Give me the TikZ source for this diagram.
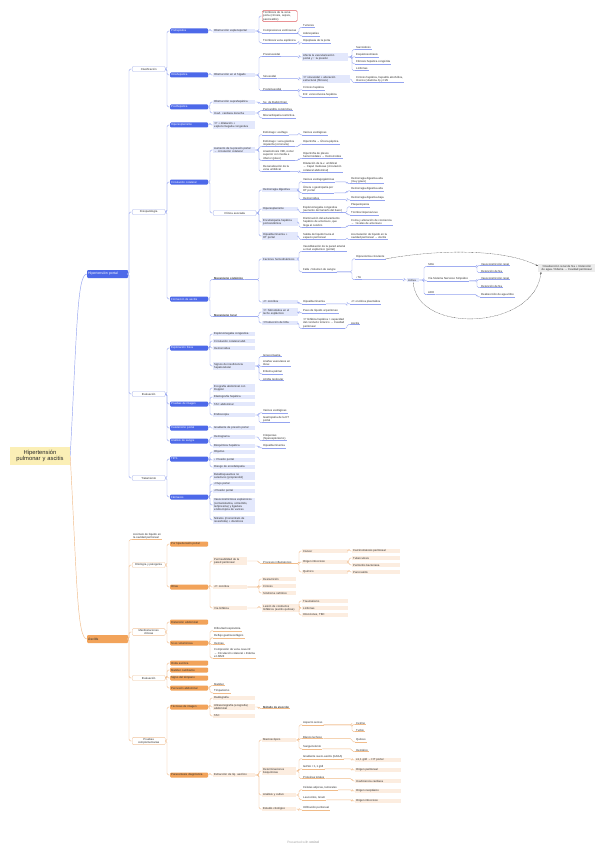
\documentclass[tikz,border=0pt]{standalone}
\usepackage{fontspec}
\setmainfont{Liberation Sans}
\usetikzlibrary{arrows.meta}
\definecolor{bl}{HTML}{4D69E9}
\definecolor{lbl}{HTML}{E3E8FC}
\definecolor{cbl}{HTML}{95A4F0}
\definecolor{wbd}{HTML}{A7B2EA}
\definecolor{orn}{HTML}{F2A35A}
\definecolor{lor}{HTML}{FCEDE0}
\definecolor{col}{HTML}{F1BC8A}
\definecolor{wod}{HTML}{F0C49E}
\definecolor{yel}{HTML}{FBEFB6}
\definecolor{txt}{HTML}{2E2E2E}
\definecolor{redb}{HTML}{E05A5E}
\definecolor{gry}{HTML}{ECECEC}
\newcommand\fs{\fontsize{2.8}{3.4}\selectfont}
\tikzset{
 base/.style={anchor=west, inner xsep=1pt, inner ysep=0.6pt, font=\fs, text=txt, align=left},
 hb/.style={base, fill=bl, text=white, rounded corners=1pt, text width=36pt, minimum height=5pt},
 ob/.style={base, fill=orn, rounded corners=1pt, text width=36pt, minimum height=5pt},
 lb/.style={base, fill=lbl, text width=#1},
 lb/.default=40pt,
 lo/.style={base, fill=lor, text width=#1},
 lo/.default=40pt,
 wbb/.style={base, draw=wbd, line width=0.4pt, fill=white, rounded corners=1pt, text width=31pt, align=center, minimum height=5pt},
 wbo/.style={wbb, draw=wod},
 lnb/.style={draw=cbl, line width=0.45pt, rounded corners=1.5pt},
 lno/.style={draw=col, line width=0.45pt, rounded corners=1.5pt},
 ub/.style={base, inner ysep=0.4pt, append after command={(\tikzlastnode.south west) edge[lnb] (\tikzlastnode.south east)}},
 uo/.style={base, inner ysep=0.4pt, append after command={(\tikzlastnode.south west) edge[lno] (\tikzlastnode.south east)}},
 dsh/.style={draw=black!65, line width=0.35pt, dash pattern=on 0.8pt off 0.6pt, -{Stealth[length=2.2pt,width=1.8pt]}},
}
\newcommand\lks[3][lnb]{\foreach \kid in {#3}{\path (\kid) ++(-3pt,0) coordinate (tmpS); \draw[#1] (#2) -- (tmpS |- #2) |- (\kid);}}
\begin{document}
\begin{tikzpicture}[x=1pt,y=-1pt]
\fill[white] (0,0) rectangle (606,848);
\useasboundingbox (0,0) rectangle (606,848);

% root
\node[base, anchor=center, fill=yel, text width=58pt, align=center, minimum height=18pt, font=\fontsize{5.8}{6.8}\selectfont, text=black!85] (root) at (40,456) {Hipertensión\\pulmonar y ascitis};
\node[hb, minimum height=8pt, text width=39pt, font=\fontsize{3.5}{4.2}\selectfont] (hp) at (87,274) {Hipertensión portal};
\node[ob, minimum height=8pt, text width=39pt, font=\fontsize{3.5}{4.2}\selectfont] (asn) at (87,639) {Ascitis};
\draw[lnb] (root.east) .. controls (77,330) and (77,274) .. (hp.west);
\draw[lno] (root.east) .. controls (77,580) and (77,639) .. (asn.west);

% ===== upper level 2
\node[wbb] (cla) at (132,69) {Clasificación};
\node[wbb] (fis) at (132,212) {Fisiopatología};
\node[wbb] (eva) at (132,394) {Evaluación};
\node[wbb] (tra) at (132,478) {Tratamiento};
% level 3
\node[hb] (pre) at (170,31) {Prehepática};
\node[hb] (intra) at (170,75) {Intrahepática};
\node[hb] (post) at (170,107) {Posthepática};
\node[hb] (hesp) at (170,125) {Hiperesplenismo};
\node[hb] (circ) at (170,182) {Circulación colateral};
\node[hb] (fasc) at (170,299) {Formación de ascitis};
\node[hb] (expl) at (170,348) {Exploración física};
\node[hb] (img) at (170,404) {Pruebas de imagen};
\node[hb] (cat) at (170,428) {Cateterismo portal};
\node[hb] (ana) at (170,441) {Análisis de sangre};
\node[hb] (tips) at (170,459) {TIPS};
\node[hb] (farm) at (170,497) {Fármacos};
% level 4
\node[lb] (obs) at (213,31) {Obstrucción esplenoportal};
\node[lb] (obh) at (213,75) {Obstrucción en el hígado};
\node[lb] (sup) at (213,102) {Obstrucción suprahepática};
\node[lb] (icc) at (213,113) {Insuf. cardiaca derecha};
\node[lb] (h1) at (213,125) {↑P + dilatación +\\esplenomegalia congestiva};
\node[lb] (aum) at (213,150) {Aumento de la presión portal\\→ circulación colateral};
\node[wbb, text width=41pt] (clin) at (213,213) {Clínica asociada};
\node[ub] (msis) at (213,278) {\textbf{Mecanismo sistémico}};
\node[ub] (mloc) at (213,315) {\textbf{Mecanismo local}};
\node[lb] (e1) at (213,334) {Esplenomegalia congestiva};
\node[lb] (e2) at (213,341) {Circulación colateral abd.};
\node[lb] (e3) at (213,348) {Hemorroides};
\node[lb] (e4) at (213,366) {Signos de insuficiencia\\hepatocelular};
\node[lb] (i1) at (213,388) {Ecografía abdominal con\\Doppler};
\node[lb] (i2) at (213,397) {Elastografía hepática};
\node[lb] (i3) at (213,404) {TAC abdominal};
\node[lb] (i4) at (213,415) {Endoscopia};
\node[lb] (c1) at (213,428) {Gradiente de presión portal};
\node[lb] (a1) at (213,437) {Hemograma};
\node[lb] (a2) at (213,446) {Bioquímica hepática};
\node[lb] (t1) at (213,452) {Objetivo};
\node[lb] (t2) at (213,460) {↓ Presión portal};
\node[lb] (t3) at (213,467) {Riesgo de encefalopatía};
\node[lb] (f1) at (213,476) {Betabloqueantes no\\selectivos (propranolol)};
\node[lb] (f2) at (213,484) {↓Flujo portal};
\node[lb] (f3) at (213,491) {↓Presión portal};
\node[lb] (f4) at (213,505) {Vasoconstrictores esplácnicos\\(somatostatina, octreótido,\\terlipresina) y ligadura\\endoscópica de varices};
\node[lb] (f5) at (213,520) {Nitratos (mononitrato de\\isosorbida) + diuréticos};
% level 5
\node[base, draw=redb, line width=0.4pt, fill=white, rounded corners=1pt, text width=33pt] (r1) at (262,16) {Trombosis de la vena\\porta (cirrosis, sepsis,\\pancreatitis)};
\node[ub] (comp) at (262,31) {Compresiones extrínsecas};
\node[ub] (tves) at (262,41) {Trombosis vena esplénica};
\node[ub] (pres) at (262,55) {Presinusoidal};
\node[ub] (sinn) at (262,77) {Sinusoidal};
\node[ub] (posts) at (262,89) {Postsinusoidal};
\node[ub] (bud) at (262,102) {Sx. de Budd-Chiari};
\node[ub] (peri) at (262,109) {Pericarditis constrictiva};
\node[ub] (mioc) at (262,116) {Miocardiopatía restrictiva};
\node[ub] (est) at (262,133) {Estómago: esófago};
\node[ub] (duo) at (262,143) {Estómago: vena gástrica\\izquierda (coronaria)};
\node[ub] (anas) at (262,155) {Anastomosis VMI, rectal\\superior con media e\\inferior (plexo)};
\node[ub] (umb) at (262,168) {Recanalización de la\\vena umbilical};
\node[lb=34pt] (hd) at (262,190) {Hemorragia digestiva};
\node[lb=34pt] (hip2) at (262,209) {Hiperesplenismo};
\node[lb=34pt] (ence) at (262,222) {Encefalopatía hepática\\portosistémica};
\node[lb=34pt] (hasc) at (262,236) {Hipoalbuminemia +\\HT portal};
\node[lb=34pt] (fh) at (262,259) {Factores hemodinámicos};
\node[lb=34pt] (poh) at (262,302) {↓P. oncótica};
\node[lb=34pt] (phid) at (262,312) {↑P. hidrostática en el\\lecho esplácnico};
\node[lb=34pt] (linf) at (262,323) {↑Producción de linfa};
\node[ub] (g1) at (262,355) {Ginecomastia};
\node[ub] (g2) at (262,363) {Arañas vasculares en\\tórax};
\node[ub] (g3) at (262,372) {Eritema palmar};
\node[ub] (g4) at (262,379) {Atrofia testicular};
\node[ub] (v1) at (262,411) {Varices esofágicas};
\node[ub] (v2) at (262,419) {Gastropatía de la HT\\portal};
\node[ub] (cy) at (262,437) {Citopenias\\(hiperesplenismo)};
\node[ub] (hal) at (262,446) {Hipoalbuminemia};
% level 6
\node[ub] (tum) at (302,26) {Tumores};
\node[ub] (ade) at (302,34) {Adenopatías};
\node[ub] (hipo) at (302,41) {Hipoplasia de la porta};
\node[lb=44pt] (pr1) at (302,57) {Afecta la vascularización\\portal y ↑ la presión};
\node[lb=46pt] (si1) at (302,79) {↑P sinusoidal + alteración\\estructural (fibrosis)};
\node[ub] (cir) at (302,88) {Cirrosis hepática};
\node[ub] (evo) at (302,95) {Enf. venooclusiva hepática};
\node[ub] (vx) at (302,133) {Varices esofágicas};
\node[ub] (ulc) at (302,142) {Hipertrofia → Úlcera péptica};
\node[ub] (hem) at (302,155) {Hipertrofia de plexos\\hemorroidales → Hemorroides};
\node[ub] (cap) at (302,167) {Dilatación de la v. umbilical\\→ Caput medusae (circulación\\colateral abdominal)};
\node[ub] (vg) at (302,180) {Varices esofagogástricas};
\node[ub] (ug) at (302,189) {Úlcera o gastropatía por\\HT portal};
\node[ub] (hm) at (302,198) {Hemorroides};
\node[ub] (esp) at (302,209) {Esplenomegalia congestiva\\(aumento del tamaño del bazo)};
\node[ub] (amo) at (302,222) {Disminución del aclaramiento\\hepático de amoníaco, que\\llega al cerebro};
\node[ub] (sal) at (302,236) {Salida de líquido hacia el\\espacio peritoneal};
\node[ub] (vaso) at (302,248) {Vasodilatación de la pared arterial\\a nivel esplácnico (portal)};
\node[ub] (fal) at (302,270) {Falla ↓Volumen de sangre};
\node[ub] (hpa) at (302,302) {Hipoalbuminemia};
\node[ub] (paso) at (302,311) {Paso de líquido al peritoneo};
\node[ub] (lin3) at (302,323) {↑P linfática hepática > capacidad\\del conducto torácico → Cavidad\\peritoneal};
% level 7
\node[ub] (sar) at (355,48) {Sarcoidosis};
\node[ub] (esq) at (355,55) {Esquistosomiasis};
\node[ub] (fib) at (355,62) {Fibrosis hepática congénita};
\node[ub] (lfm) at (355,69) {Linfomas};
\node[ub] (si2) at (355,79) {Cirrosis hepática, hepatitis alcohólica,\\tóxicos (vitamina A) y HAI};
\node[ub] (hda) at (350,180) {Hemorragia digestiva alta\\(muy grave)};
\node[ub] (hdb) at (350,189) {Hemorragia digestiva alta};
\node[ub] (hdc) at (350,198) {Hemorragia digestiva baja};
\node[ub] (plq) at (350,205) {Plaquetopenia};
\node[ub] (trb) at (350,213) {Trombocitopenia leve};
\node[ub] (coma) at (350,222) {Coma y alteración de conciencia\\→ ↑niveles de amoníaco};
\node[ub] (acu) at (350,236) {Acumulación de líquido en la\\cavidad peritoneal → Ascitis};
\node[ub] (hvc) at (355,257) {Hipovolemia circulante};
\node[ub] (ta) at (355,278) {↓TA};
\node[lb=10pt] (act) at (407,280) {Activa};
\node[ub] (sra) at (427,265) {SRA};
\node[ub] (sns) at (427,279) {Vía Sistema Nervioso Simpático};
\node[ub] (adh) at (427,293) {ADH};
\node[ub] (vr1) at (480,264) {Vasoconstricción renal};
\node[ub] (rn1) at (480,271) {Retención de Na};
\node[ub] (vr2) at (480,278) {Vasoconstricción renal};
\node[ub] (rn2) at (480,286) {Retención de Na};
\node[ub] (h2o) at (480,295) {Reabsorción de agua libre};
\node[base, fill=gry, text width=55pt, align=center] (tgt) at (538,268) {↑Reabsorción renal de Na + Retención\\de agua / Edema → Cavidad peritoneal};
\node[ub] (onc) at (350,302) {↓P. oncótica plasmática};
\node[ub] (asc2) at (350,323) {Ascitis};

% upper links
\lks{hp.east}{cla.west,fis.west,eva.west,tra.west}
\lks{cla.east}{pre.west,intra.west,post.west}
\lks{fis.east}{hesp.west,circ.west,fasc.west}
\lks{eva.east}{expl.west,img.west,cat.west,ana.west}
\lks{tra.east}{tips.west,farm.west}
\lks{pre.east}{obs.west}
\lks{intra.east}{obh.west}
\lks{post.east}{sup.west,icc.west}
\lks{hesp.east}{h1.west}
\lks{circ.east}{aum.west,clin.west}
\lks{fasc.east}{msis.south west,mloc.south west}
\lks{expl.east}{e1.west,e2.west,e3.west,e4.west}
\lks{img.east}{i1.west,i2.west,i3.west,i4.west}
\lks{cat.east}{c1.west}
\lks{ana.east}{a1.west,a2.west}
\lks{tips.east}{t1.west,t2.west,t3.west}
\lks{farm.east}{f1.west,f2.west,f3.west,f4.west,f5.west}
\lks{obs.east}{r1.west,comp.south west,tves.south west}
\lks{obh.east}{pres.south west,sinn.south west,posts.south west}
\lks{sup.east}{bud.south west}
\lks{icc.east}{peri.south west,mioc.south west}
\lks{aum.east}{est.south west,duo.south west,anas.south west,umb.south west}
\lks{clin.east}{hd.west,hip2.west,ence.west,hasc.west}
\lks{msis.south east}{fh.west,poh.west}
\lks{mloc.south east}{phid.west,linf.west}
\lks{e4.east}{g1.south west,g2.south west,g3.south west,g4.south west}
\lks{i4.east}{v1.south west,v2.south west}
\lks{a1.east}{cy.south west}
\lks{a2.east}{hal.south west}
\lks{comp.south east}{tum.south west,ade.south west}
\lks{tves.south east}{hipo.south west}
\lks{pres.south east}{pr1.west}
\lks{sinn.south east}{si1.west}
\lks{posts.south east}{cir.south west,evo.south west}
\lks{est.south east}{vx.south west}
\lks{duo.south east}{ulc.south west}
\lks{anas.south east}{hem.south west}
\lks{umb.south east}{cap.south west}
\lks{hd.east}{vg.south west,ug.south west,hm.south west}
\lks{hip2.east}{esp.south west}
\lks{ence.east}{amo.south west}
\lks{hasc.east}{sal.south west}
\lks{fh.east}{vaso.south west,fal.south west}
\lks{poh.east}{hpa.south west}
\lks{phid.east}{paso.south west}
\lks{linf.east}{lin3.south west}
\lks{pr1.east}{sar.south west,esq.south west,fib.south west,lfm.south west}
\lks{si1.east}{si2.south west}
\lks{vg.south east}{hda.south west}
\lks{ug.south east}{hdb.south west}
\lks{hm.south east}{hdc.south west}
\lks{esp.south east}{plq.south west,trb.south west}
\lks{amo.south east}{coma.south west}
\lks{sal.south east}{acu.south west}
\lks{fal.south east}{hvc.south west,ta.south west}
\lks{ta.south east}{act.west}
\lks{act.east}{sra.south west,sns.south west,adh.south west}
\lks{sra.south east}{vr1.south west,rn1.south west}
\lks{sns.south east}{vr2.south west,rn2.south west}
\lks{adh.south east}{h2o.south west}
\lks{hpa.south east}{onc.south west}
\lks{lin3.south east}{asc2.south west}
\draw[dsh] (hvc.south east) .. controls (440,249) and (505,249) .. ([yshift=2pt]tgt.west);
\draw[dsh] (act.south) .. controls (416,335) and (535,330) .. ([xshift=3pt]tgt.south west);

% ===== lower branch
\node[uo] (def) at (132,536) {Acúmulo de líquido en\\la cavidad peritoneal};
\node[wbo] (etio) at (132,565) {Etiología y patogenia};
\node[wbo] (mani) at (132,632) {Manifestaciones\\clínicas};
\node[wbo] (evaa) at (132,678) {Evaluación};
\node[wbo] (prue) at (132,741) {Pruebas\\complementarias};
\node[ob] (pht) at (170,544) {Por hipertensión portal};
\node[ob] (otr) at (170,587) {Otras};
\node[ob] (dis) at (170,622) {Distensión abdominal};
\node[ob] (vol) at (170,643) {Si es voluminosa};
\node[ob] (anm) at (170,663) {Onda ascítica};
\node[ob] (mat) at (170,670) {Matidez cambiante};
\node[ob] (tem) at (170,678) {Signo del témpano};
\node[ob] (per) at (170,688) {Percusión abdominal};
\node[ob] (tim) at (170,707) {Técnicas de imagen};
\node[ob] (par) at (170,775) {Paracentesis diagnóstica};
\node[lo=32pt] (perm) at (213,561) {Permeabilidad de la\\pared peritoneal};
\node[lo=32pt] (ponc) at (213,587) {↓P. oncótica};
\node[lo=32pt] (vlin) at (213,608) {Vía linfática};
\node[uo] (dres) at (213,629) {Dificultad respiratoria};
\node[uo] (rge) at (213,636) {Reflujo gastroesofágico};
\node[uo] (her) at (213,643) {Hernias};
\node[uo] (cvi) at (213,653) {Compresión de vena cava inf.\\→ Circulación colateral + Edema\\en MMII};
\node[uo] (mtz) at (213,684) {Matidez};
\node[uo] (tmp) at (213,691) {Timpanismo};
\node[lo] (rx) at (213,698) {Radiografía};
\node[lo] (eco) at (213,707) {Ultrasonografía (ecografía)\\abdominal};
\node[lo] (tac) at (213,716) {TAC};
\node[lo] (ext) at (213,775) {Extracción de líq. ascítico};
\node[uo] (pinf) at (262,562) {Procesos inflamatorios};
\node[lo=32pt] (desn) at (262,579) {Desnutrición};
\node[lo=32pt] (cirr) at (262,586) {Cirrosis};
\node[lo=32pt] (sndn) at (262,593) {Síndrome nefrótico};
\node[lo=36pt] (lesl) at (262,608) {Lesión de conductos\\linfáticos (ascitis quilosa)};
\node[uo] (meto) at (262,707) {\textbf{Método de elección}};
\node[lo=32pt] (macr) at (262,740) {Macroscópico};
\node[lo=32pt] (bioq) at (262,771) {Determinaciones\\bioquímicas};
\node[lo=32pt] (cult) at (262,795) {Análisis y cultivo};
\node[lo=32pt] (cito) at (262,809) {Estudio citológico};
\node[lo=44pt] (canc) at (302,551) {Cáncer};
\node[lo=44pt] (oinf) at (302,562) {Origen infeccioso};
\node[lo=44pt] (quim) at (302,572) {Químico};
\node[lo=44pt] (trau) at (302,601) {Traumatismo};
\node[lo=44pt] (linfo) at (302,608) {Linfomas};
\node[lo=44pt] (itbc) at (302,615) {Infecciones, TBC};
\node[uo] (asp) at (302,723) {Aspecto seroso};
\node[uo] (lech) at (302,737) {Blanco lechoso};
\node[uo] (sang) at (302,747) {Sanguinolento};
\node[uo] (gasa) at (302,757) {Gradiente suero-ascitis (GASA)};
\node[uo] (gasb) at (302,767) {GASA < 1,1 g/dl};
\node[uo] (prot) at (302,777) {Proteínas totales};
\node[uo] (atip) at (302,788) {Células atípicas, tumorales};
\node[uo] (leuc) at (302,798) {Leucocitos, Gram};
\node[uo] (infp) at (302,808) {Infiltración peritoneal};
\node[lo=46pt] (carp) at (352,551) {Carcinomatosis peritoneal};
\node[lo=46pt] (tbc) at (352,558) {Tuberculosis};
\node[lo=46pt] (pert) at (352,565) {Peritonitis bacteriana};
\node[lo=46pt] (panc) at (352,572) {Pancreatitis};
\node[uo] (citr) at (355,723) {Cetrino};
\node[uo] (turb) at (355,730) {Turbio};
\node[uo] (quil) at (355,740) {Quiloso};
\node[uo] (hema) at (355,750) {Hemático};
\node[lo=44pt] (g11) at (355,760) {≥1,1 g/dl → HT portal};
\node[lo=44pt] (orp) at (355,770) {Origen peritoneal};
\node[lo=44pt] (icar) at (355,781) {Insuficiencia cardiaca};
\node[lo=44pt] (oneo) at (355,791) {Origen neoplásico};
\node[lo=44pt] (oin2) at (355,801) {Origen infeccioso};

\lks[lno]{asn.east}{def.south west,etio.west,mani.west,evaa.west,prue.west}
\lks[lno]{etio.east}{pht.west,otr.west}
\lks[lno]{mani.east}{dis.west,vol.west}
\lks[lno]{evaa.east}{anm.west,mat.west,tem.west,per.west}
\lks[lno]{prue.east}{tim.west,par.west}
\lks[lno]{otr.east}{perm.west,ponc.west,vlin.west}
\lks[lno]{vol.east}{dres.south west,rge.south west,her.south west,cvi.south west}
\lks[lno]{per.east}{mtz.south west,tmp.south west}
\lks[lno]{tim.east}{rx.west,eco.west,tac.west}
\lks[lno]{par.east}{ext.west}
\lks[lno]{perm.east}{pinf.south west}
\lks[lno]{ponc.east}{desn.west,cirr.west,sndn.west}
\lks[lno]{vlin.east}{lesl.west}
\lks[lno]{eco.east}{meto.south west}
\lks[lno]{ext.east}{macr.west,bioq.west,cult.west,cito.west}
\lks[lno]{pinf.south east}{canc.west,oinf.west,quim.west}
\lks[lno]{lesl.east}{trau.west,linfo.west,itbc.west}
\lks[lno]{macr.east}{asp.south west,lech.south west,sang.south west}
\lks[lno]{bioq.east}{gasa.south west,gasb.south west,prot.south west}
\lks[lno]{cult.east}{atip.south west,leuc.south west}
\lks[lno]{cito.east}{infp.south west}
\lks[lno]{canc.east}{carp.west}
\lks[lno]{oinf.east}{tbc.west,pert.west}
\lks[lno]{quim.east}{panc.west}
\lks[lno]{asp.south east}{citr.south west,turb.south west}
\lks[lno]{lech.south east}{quil.south west}
\lks[lno]{sang.south east}{hema.south west}
\lks[lno]{gasa.south east}{g11.west}
\lks[lno]{gasb.south east}{orp.west}
\lks[lno]{prot.south east}{icar.west}
\lks[lno]{atip.south east}{oneo.west}
\lks[lno]{leuc.south east}{oin2.west}

\node[font=\fontsize{3.2}{4}\selectfont, text=black!35] (foot) at (303,842) {Presented with \textbf{xmind}};
\end{tikzpicture}
\end{document}
